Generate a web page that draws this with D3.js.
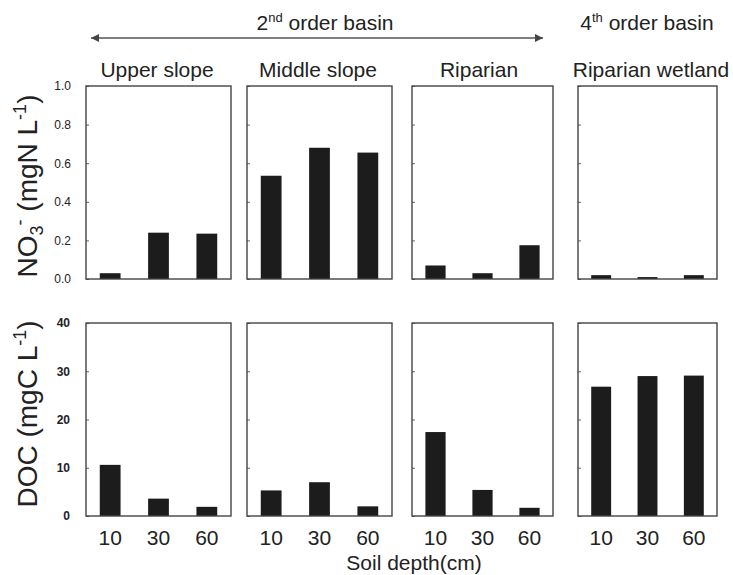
<!DOCTYPE html>
<html>
<head>
<meta charset="utf-8">
<script src="https://cdn.jsdelivr.net/npm/d3@7"></script>
<style>
  body { margin: 0; background: #fff; }
  svg text { font-family: "Liberation Sans", Arial, sans-serif; fill: #222; }
</style>
</head>
<body>
<div id="chart"></div>
<script>
const depths = ["10", "30", "60"];
const sites = ["Upper slope", "Middle slope", "Riparian", "Riparian wetland"];
// NO3- (mgN/L) per site, by depth
const no3Values = [
  [0.03, 0.24, 0.235],
  [0.535, 0.68, 0.655],
  [0.07, 0.03, 0.175],
  [0.02, 0.01, 0.02]
];
// DOC (mgC/L) per site, by depth
const docValues = [
  [10.6, 3.6, 1.9],
  [5.3, 7.0, 2.0],
  [17.4, 5.4, 1.7],
  [26.8, 29.0, 29.1]
];
const no3Ticks = [0, 0.2, 0.4, 0.6, 0.8, 1.0];
const docTicks = [0, 10, 20, 30, 40];

const W = 733, H = 575;
const cols = [[86, 231], [247, 392], [412, 553], [578, 717]];
const titleX = [157, 318, 479, 651];
const rows = [
  { top: 86, bottom: 279, values: no3Values, domain: [0, 1], ticks: no3Ticks, fmt: d3.format(".1f"), pad: 15, weight: "normal" },
  { top: 323, bottom: 516, values: docValues, domain: [0, 40], ticks: docTicks, fmt: d3.format("d"), pad: 16, weight: "bold" }
];

const svg = d3.select("#chart").append("svg")
  .attr("width", W)
  .attr("height", H);

rows.forEach((row, ri) => {
  const y = d3.scaleLinear().domain(row.domain).range([row.bottom, row.top]);

  cols.forEach((c, ci) => {
    const x = d3.scaleBand().domain(depths).range([c[0], c[1]])
      .paddingInner(0.57).paddingOuter(0.285);

    const g = svg.append("g");

    g.selectAll("rect.bar")
      .data(row.values[ci].map((v, i) => ({ depth: depths[i], value: v })))
      .join("rect")
      .attr("class", "bar")
      .attr("x", d => x(d.depth))
      .attr("width", x.bandwidth())
      .attr("y", d => y(d.value))
      .attr("height", d => y(0) - y(d.value))
      .attr("fill", "#1c1c1c");

    // inward ticks on every panel, labels only on the first column
    const yAxis = g.append("g")
      .attr("transform", `translate(${c[0]},0)`)
      .call(d3.axisLeft(y).tickValues(row.ticks).tickSizeInner(-3).tickSizeOuter(0)
        .tickPadding(row.pad).tickFormat(ci === 0 ? row.fmt : ""));
    yAxis.select(".domain").remove();
    yAxis.selectAll("line").attr("stroke", "#666");
    yAxis.selectAll("text")
      .style("font-size", "12px")
      .style("font-weight", row.weight)
      .attr("fill", "#333");

    if (ri === 1) {
      const xAxis = g.append("g")
        .attr("transform", `translate(0,${row.bottom})`)
        .call(d3.axisBottom(x).tickSize(0).tickPadding(14));
      xAxis.select(".domain").remove();
      xAxis.selectAll("text").style("font-size", "21px").attr("fill", "#222");
    }

    g.append("rect")
      .attr("x", c[0])
      .attr("y", row.top)
      .attr("width", c[1] - c[0])
      .attr("height", row.bottom - row.top)
      .attr("fill", "none")
      .attr("stroke", "#444")
      .attr("stroke-width", 1.4);
  });
});

// column titles
svg.selectAll("text.site")
  .data(sites)
  .join("text")
  .attr("class", "site")
  .attr("x", (d, i) => titleX[i])
  .attr("y", 77)
  .attr("text-anchor", "middle")
  .style("font-size", "21px")
  .text(d => d);

// basin header with double arrow
const defs = svg.append("defs");
["start", "end"].forEach(k => {
  defs.append("marker")
    .attr("id", "arrow-" + k)
    .attr("viewBox", "0 0 10 10")
    .attr("refX", k === "end" ? 10 : 0)
    .attr("refY", 5)
    .attr("markerWidth", 12)
    .attr("markerHeight", 8)
    .attr("markerUnits", "userSpaceOnUse")
    .attr("orient", "auto")
    .append("path")
    .attr("d", k === "end" ? "M0,0 L10,5 L0,10 Z" : "M10,0 L0,5 L10,10 Z")
    .attr("fill", "#444");
});
svg.append("line")
  .attr("x1", 91).attr("x2", 543)
  .attr("y1", 38).attr("y2", 38)
  .attr("stroke", "#555")
  .attr("stroke-width", 1.5)
  .attr("marker-start", "url(#arrow-start)")
  .attr("marker-end", "url(#arrow-end)");

function basinLabel(cx, num, sup) {
  const t = svg.append("text")
    .attr("x", cx)
    .attr("y", 30)
    .attr("text-anchor", "middle")
    .style("font-size", "21px");
  t.append("tspan").text(num);
  t.append("tspan").attr("dy", -8).style("font-size", "13px").text(sup);
  t.append("tspan").attr("dy", 8).text(" order basin");
}
basinLabel(325, "2", "nd");
basinLabel(647, "4", "th");

// y titles
function yTitle(cy, parts) {
  const t = svg.append("text")
    .attr("transform", `translate(37,${cy}) rotate(-90)`)
    .attr("text-anchor", "middle")
    .style("font-size", "28px");
  parts.forEach(p => {
    t.append("tspan")
      .attr("dy", p.dy || 0)
      .style("font-size", p.small ? "18px" : "28px")
      .text(p.text);
  });
}
yTitle(186, [
  { text: "NO" },
  { text: "3", small: true, dy: 6 },
  { text: "-", small: true, dy: -17 },
  { text: " (mgN L", dy: 11 },
  { text: "-1", small: true, dy: -11 },
  { text: ")", dy: 11 }
]);
yTitle(414, [
  { text: "DOC (mgC L" },
  { text: "-1", small: true, dy: -11 },
  { text: ")", dy: 11 }
]);

svg.append("text")
  .attr("x", 414)
  .attr("y", 570)
  .attr("text-anchor", "middle")
  .style("font-size", "21px")
  .text("Soil depth(cm)");
</script>
</body>
</html>
